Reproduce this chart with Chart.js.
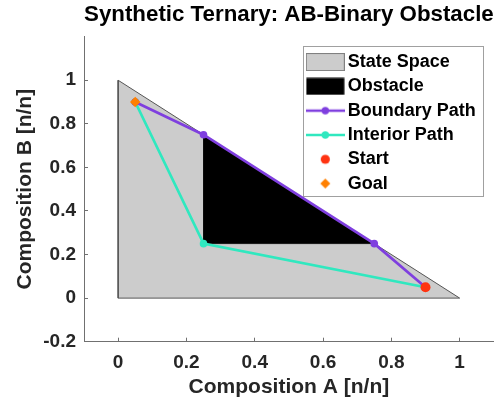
<!DOCTYPE html>
<html>
<head>
<meta charset="utf-8">
<script src="https://cdn.jsdelivr.net/npm/chart.js@4.4.1/dist/chart.umd.min.js"></script>
<style>
html, body { margin: 0; padding: 0; background: #ffffff; }
#wrap { width: 499px; height: 405px; }
canvas { display: block; }
</style>
</head>
<body>
<div id="wrap"><canvas id="c" width="499" height="405"></canvas></div>
<script>
// ---------- data ----------
const titleText = 'Synthetic Ternary: AB-Binary Obstacle';
const xAxisLabel = 'Composition A [n/n]';
const yAxisLabel = 'Composition B [n/n]';
const seriesNames = ['State Space', 'Obstacle', 'Boundary Path', 'Interior Path', 'Start', 'Goal'];

const stateSpaceA = [0, 1, 0, 0];
const stateSpaceB = [0, 0, 1, 0];
const obstacleA = [0.25, 0.75, 0.25, 0.25];
const obstacleB = [0.25, 0.25, 0.75, 0.25];
const boundaryA = [0.05, 0.25, 0.75, 0.9];
const boundaryB = [0.9, 0.75, 0.25, 0.05];
const interiorA = [0.05, 0.25, 0.9];
const interiorB = [0.9, 0.25, 0.05];
const startA = [0.9];
const startB = [0.05];
const goalA = [0.05];
const goalB = [0.9];

const xTickValues = [0, 0.2, 0.4, 0.6, 0.8, 1];
const yTickValues = [-0.2, 0, 0.2, 0.4, 0.6, 0.8, 1];
const xRange = [-0.1, 1.1];
const yRange = [-0.2, 1.2];

// ---------- styles ----------
const FONT = "'Liberation Sans', Arial, Helvetica, sans-serif";
const colStateFill = '#cccccc';
const colStateEdge = '#555555';
const colObstacle = '#000000';
const colBoundary = '#7f3fdf';
const colInterior = '#30e8bf';
const colStart = '#ff3311';
const colGoal = '#ff8000';
const colAxis = '#707070';
const colText = '#262626';

Chart.defaults.font.family = FONT;

const pts = (a, b) => a.map((v, i) => ({ x: v, y: b[i] }));
const fmt = v => String(+Number(v).toFixed(2));

// legend symbols (39 x 18 images)
function makeSymbol(kind, color) {
  const c = document.createElement('canvas');
  c.width = 39; c.height = 18;
  const g = c.getContext('2d');
  if (kind === 'patch') {
    g.fillStyle = color.fill;
    g.fillRect(0.5, 0.5, 38, 17);
    if (color.edge) { g.strokeStyle = color.edge; g.lineWidth = 1; g.strokeRect(0.5, 0.5, 38, 17); }
  } else if (kind === 'lineDot') {
    g.strokeStyle = color; g.lineWidth = 2.5;
    g.beginPath(); g.moveTo(0, 9); g.lineTo(39, 9); g.stroke();
    g.fillStyle = color; g.beginPath(); g.arc(19.5, 9, 3.7, 0, Math.PI * 2); g.fill();
  } else if (kind === 'circle') {
    g.fillStyle = color; g.beginPath(); g.arc(19.5, 9, 4.6, 0, Math.PI * 2); g.fill();
  } else if (kind === 'diamond') {
    g.fillStyle = color; g.beginPath();
    g.moveTo(19.5 - 5, 9); g.lineTo(19.5, 4); g.lineTo(19.5 + 5, 9); g.lineTo(19.5, 14); g.closePath(); g.fill();
  }
  return c;
}
const legendSymbols = [
  makeSymbol('patch', { fill: colStateFill, edge: '#808080' }),
  makeSymbol('patch', { fill: colObstacle }),
  makeSymbol('lineDot', colBoundary),
  makeSymbol('lineDot', colInterior),
  makeSymbol('circle', colStart),
  makeSymbol('diamond', colGoal)
];

const legendBox = { width: 180, height: 150, rightInset: 11, topInset: 9.7 };

const legendInside = {
  id: 'legendInside',
  beforeLayout(chart) {
    const lg = chart.legend;
    if (lg && !lg.__patched) {
      const origFit = lg.fit;
      lg.fit = function () {
        origFit.call(this);
        this.__h = this.height;
        this.width = 0; this.height = 0;
      };
      lg.__patched = true;
    }
  },
  afterLayout(chart) {
    const lg = chart.legend, ca = chart.chartArea;
    const bx = ca.right - legendBox.rightInset - legendBox.width;
    const by = ca.top + legendBox.topInset;
    lg.left = bx + 2.7; lg.top = by + 0.4;
    lg.width = legendBox.width; lg.height = lg.__h;
    lg.right = lg.left + lg.width; lg.bottom = lg.top + lg.height;
    chart.__legendBorder = { x: bx, y: by };
  },
  beforeDraw(chart) {
    const b = chart.__legendBorder; if (!b) return;
    const g = chart.ctx;
    g.save();
    g.fillStyle = '#ffffff';
    g.fillRect(Math.round(b.x) + 0.5, Math.round(b.y) + 0.5, legendBox.width, legendBox.height);
    g.strokeStyle = '#a0a0a0'; g.lineWidth = 1;
    g.strokeRect(Math.round(b.x) + 0.5, Math.round(b.y) + 0.5, legendBox.width, legendBox.height);
    g.restore();
  }
};

const datasets = [
  { label: seriesNames[0], data: pts(stateSpaceA, stateSpaceB), showLine: true, fill: 'shape',
    backgroundColor: colStateFill, borderColor: colStateEdge, borderWidth: 1, pointRadius: 0, order: 6 },
  { label: seriesNames[1], data: pts(obstacleA, obstacleB), showLine: true, fill: 'shape',
    backgroundColor: colObstacle, borderColor: colObstacle, borderWidth: 0.5, pointRadius: 0, order: 5 },
  { label: seriesNames[2], data: pts(boundaryA, boundaryB), showLine: true, fill: false,
    borderColor: colBoundary, borderWidth: 2.7, pointRadius: 3.8, pointBackgroundColor: colBoundary,
    pointBorderWidth: 0, backgroundColor: colBoundary, order: 3 },
  { label: seriesNames[3], data: pts(interiorA, interiorB), showLine: true, fill: false,
    borderColor: colInterior, borderWidth: 2.7, pointRadius: 3.8, pointBackgroundColor: colInterior,
    pointBorderWidth: 0, backgroundColor: colInterior, order: 4 },
  { label: seriesNames[4], data: pts(startA, startB), showLine: false,
    pointRadius: 5, pointStyle: 'circle', pointBackgroundColor: colStart, pointBorderWidth: 0,
    backgroundColor: colStart, borderColor: colStart, order: 2 },
  { label: seriesNames[5], data: pts(goalA, goalB), showLine: false,
    pointRadius: 5.2, pointStyle: 'rectRot', pointBackgroundColor: colGoal, pointBorderWidth: 0,
    backgroundColor: colGoal, borderColor: colGoal, order: 1 }
];

new Chart(document.getElementById('c'), {
  type: 'scatter',
  data: { datasets },
  plugins: [legendInside],
  options: {
    responsive: false,
    animation: false,
    events: [],
    layout: { padding: { left: 0, right: 4, top: 0, bottom: 0 } },
    plugins: {
      title: {
        display: true, text: titleText, color: '#000000', fullSize: false,
        font: { size: 22.3, weight: 'bold', family: FONT },
        padding: { top: 1.8, bottom: 8.1 }
      },
      legend: {
        display: true, position: 'right', align: 'start', maxWidth: 400,
        labels: {
          usePointStyle: true, pointStyleWidth: 27, boxHeight: 18,
          padding: 6.3, color: '#000000',
          font: { size: 18, weight: 'bold', family: FONT },
          generateLabels: (chart) => chart.data.datasets.map((ds, i) => ({
            text: ds.label, pointStyle: legendSymbols[i], fillStyle: 'rgba(0,0,0,0)',
            strokeStyle: 'rgba(0,0,0,0)', lineWidth: 0, hidden: false, datasetIndex: i, fontColor: '#000000'
          }))
        }
      },
      tooltip: { enabled: false }
    },
    scales: {
      x: {
        type: 'linear', min: xRange[0], max: xRange[1],
        afterBuildTicks: s => { s.ticks = xTickValues.map(v => ({ value: v })); },
        afterFit: s => { s.height = 63.3; },
        ticks: { padding: 14, color: colText, font: { size: 19, weight: 'bold' }, autoSkip: false, maxRotation: 0,
          callback: v => fmt(v) },
        grid: { display: true, drawOnChartArea: false, drawTicks: true, tickLength: -4, color: colAxis, tickWidth: 1 },
        border: { display: true, color: colAxis, width: 1 },
        title: { display: true, text: xAxisLabel, color: colText, font: { size: 21, weight: 'bold' },
          padding: { top: 0, bottom: 5.4 } }
      },
      y: {
        type: 'linear', min: yRange[0], max: yRange[1],
        afterBuildTicks: s => { s.ticks = yTickValues.map(v => ({ value: v })); },
        afterFit: s => { s.width = 84; },
        ticks: { padding: 12, color: colText, font: { size: 19, weight: 'bold' }, autoSkip: false,
          callback: v => fmt(v) },
        grid: { display: true, drawOnChartArea: false, drawTicks: true, tickLength: -4, color: colAxis, tickWidth: 1 },
        border: { display: true, color: colAxis, width: 1 },
        title: { display: true, text: yAxisLabel, color: colText, font: { size: 21, weight: 'bold' },
          padding: { top: 12.4, bottom: 0 } }
      }
    }
  }
});
</script>
</body>
</html>
